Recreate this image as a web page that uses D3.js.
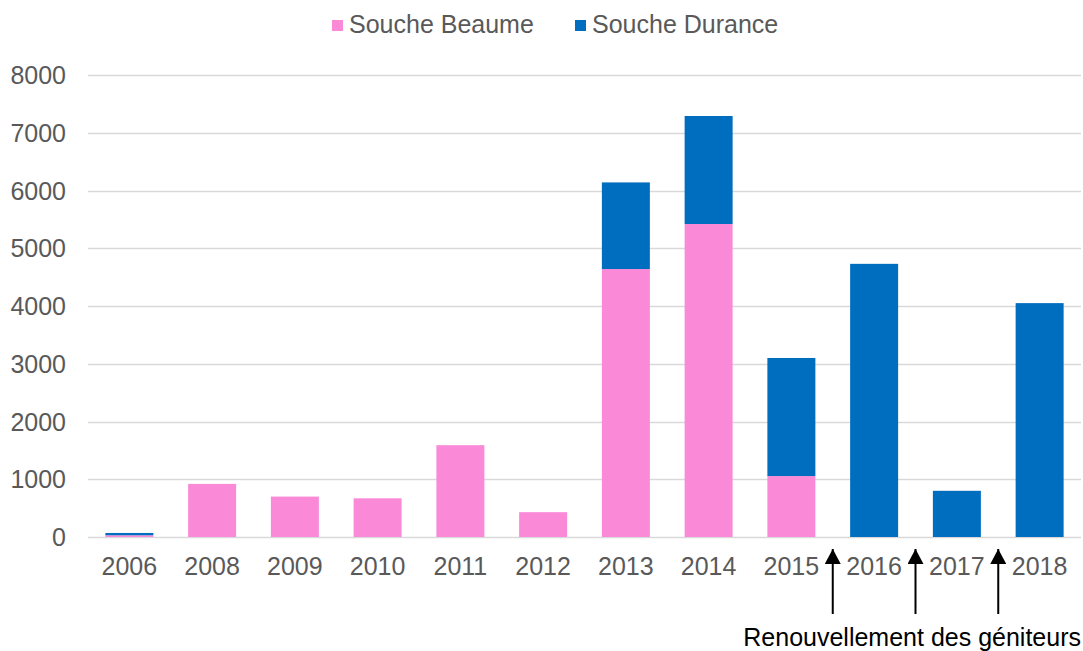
<!DOCTYPE html>
<html>
<head>
<meta charset="utf-8">
<script src="https://cdn.jsdelivr.net/npm/d3@7"></script>
<style>
  body { margin: 0; background: #fff; }
  svg { display: block; font-family: "Liberation Sans", Arial, sans-serif; }
</style>
</head>
<body>
<div id="chart"></div>
<script>
const years = ["2006", "2008", "2009", "2010", "2011", "2012", "2013", "2014", "2015", "2016", "2017", "2018"];
const beaume = [30, 920, 700, 670, 1590, 430, 4640, 5420, 1055, 0, 0, 0];
const durance = [40, 0, 0, 0, 0, 0, 1500, 1870, 2045, 4730, 800, 4050];
const seriesNames = ["Souche Beaume", "Souche Durance"];
const yTicks = [0, 1000, 2000, 3000, 4000, 5000, 6000, 7000, 8000];
const renewalAfter = ["2015", "2016", "2017"]; // arrows sit between these years and the next
const note = "Renouvellement des géniteurs";

const width = 1083, height = 651;
const colors = ["#fa8ad8", "#006ebf"];
const fontSize = 25;

const rows = years.map((y, i) => ({ year: y, "Souche Beaume": beaume[i], "Souche Durance": durance[i] }));
const stacked = d3.stack().keys(seriesNames)(rows);

const x = d3.scaleBand().domain(years).range([88, 1081]).paddingInner(0.42).paddingOuter(0.21);
const y = d3.scaleLinear().domain([0, 8000]).range([537, 75]);

const svg = d3.select("#chart").append("svg")
    .attr("width", width)
    .attr("height", height);

// gridlines
svg.append("g")
    .attr("stroke", "#d9d9d9")
    .attr("stroke-width", 1.3)
  .selectAll("line")
  .data(yTicks)
  .join("line")
    .attr("x1", 88)
    .attr("x2", 1081)
    .attr("y1", d => Math.round(y(d)) + 0.5)
    .attr("y2", d => Math.round(y(d)) + 0.5);

// y tick labels
svg.append("g")
  .selectAll("text")
  .data(yTicks)
  .join("text")
    .attr("x", 66)
    .attr("y", d => y(d))
    .attr("dy", "0.36em")
    .attr("text-anchor", "end")
    .attr("fill", "#595959")
    .attr("font-size", fontSize)
    .text(d => d);

// bars
svg.append("g")
  .selectAll("g")
  .data(stacked)
  .join("g")
    .attr("fill", (d, i) => colors[i])
  .selectAll("rect")
  .data(d => d)
  .join("rect")
    .attr("x", d => x(d.data.year))
    .attr("width", x.bandwidth())
    .attr("y", d => y(d[1]))
    .attr("height", d => Math.max(0, y(d[0]) - y(d[1])));

// x labels
svg.append("g")
  .selectAll("text")
  .data(years)
  .join("text")
    .attr("x", d => x(d) + x.bandwidth() / 2)
    .attr("y", 575)
    .attr("text-anchor", "middle")
    .attr("fill", "#595959")
    .attr("font-size", fontSize)
    .text(d => d);

// legend
const legend = svg.append("g");
const legendX = [332, 575];
seriesNames.forEach((name, i) => {
  legend.append("rect")
      .attr("x", legendX[i])
      .attr("y", 20)
      .attr("width", 11)
      .attr("height", 11)
      .attr("fill", colors[i]);
  legend.append("text")
      .attr("x", legendX[i] + 17)
      .attr("y", 33)
      .attr("fill", "#595959")
      .attr("font-size", fontSize)
      .text(name);
});

// renewal arrows
svg.append("defs").append("marker")
    .attr("id", "head")
    .attr("viewBox", "0 0 15 16")
    .attr("refX", 15)
    .attr("refY", 8)
    .attr("markerUnits", "userSpaceOnUse")
    .attr("markerWidth", 15)
    .attr("markerHeight", 16)
    .attr("orient", "auto")
  .append("path")
    .attr("d", "M0,0L15,8L0,16Z")
    .attr("fill", "#000");

const step = x.step();
svg.append("g")
  .selectAll("line")
  .data(renewalAfter)
  .join("line")
    .attr("x1", d => x(d) + x.bandwidth() / 2 + step / 2)
    .attr("x2", d => x(d) + x.bandwidth() / 2 + step / 2)
    .attr("y1", 614)
    .attr("y2", 549)
    .attr("stroke", "#000")
    .attr("stroke-width", 2)
    .attr("marker-end", "url(#head)");

svg.append("text")
    .attr("x", 1081)
    .attr("y", 646)
    .attr("text-anchor", "end")
    .attr("fill", "#000")
    .attr("font-size", fontSize)
    .text(note);
</script>
</body>
</html>
